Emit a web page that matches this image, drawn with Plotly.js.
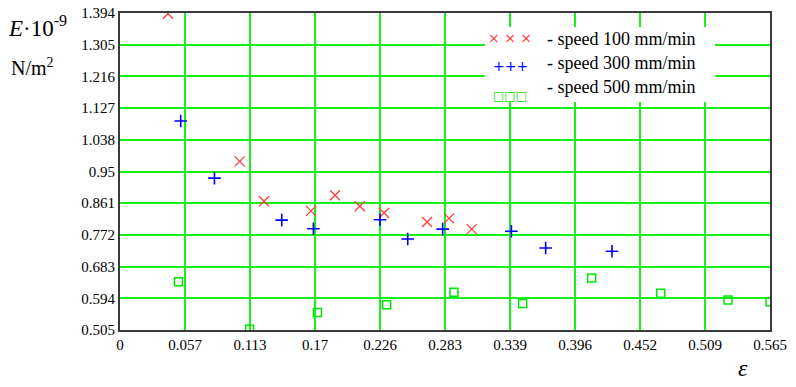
<!DOCTYPE html>
<html>
<head>
<meta charset="utf-8">
<script src="https://cdn.plot.ly/plotly-3.0.1.min.js"></script>
<style>
html,body{margin:0;padding:0;background:#fff;}
#chart{width:796px;height:387px;}
</style>
</head>
<body>
<div id="chart"></div>
<script>
// ---- data (strain ε vs modulus E·10^-9, N/m²) ----
const speed100_x = [0.0417, 0.1040, 0.1252, 0.1660, 0.1869, 0.2084, 0.2295, 0.2669, 0.2860, 0.3057];
const speed100_y = [1.392, 0.978, 0.866, 0.839, 0.883, 0.852, 0.833, 0.808, 0.818, 0.788];

const speed300_x = [0.0528, 0.0821, 0.1406, 0.1681, 0.2260, 0.2501, 0.2805, 0.3402, 0.3700, 0.4277];
const speed300_y = [1.091, 0.931, 0.813, 0.789, 0.814, 0.760, 0.788, 0.782, 0.735, 0.726];

const speed500_x = [0.0508, 0.1127, 0.1716, 0.2318, 0.2903, 0.3500, 0.4100, 0.4700, 0.5285, 0.5650];
const speed500_y = [0.640, 0.507, 0.554, 0.576, 0.611, 0.579, 0.651, 0.608, 0.589, 0.584];

const seriesNames = ["- speed 100 mm/min", "- speed 300 mm/min", "- speed 500 mm/min"];

const xTickVals = [0, 0.0565, 0.113, 0.1695, 0.226, 0.2825, 0.339, 0.3955, 0.452, 0.5085, 0.565];
const xTickText = ["0", "0.057", "0.113", "0.17", "0.226", "0.283", "0.339", "0.396", "0.452", "0.509", "0.565"];
const yTickVals = [0.505, 0.5939, 0.6828, 0.7717, 0.8606, 0.9495, 1.0384, 1.1273, 1.2162, 1.3051, 1.394];
const yTickText = ["0.505", "0.594", "0.683", "0.772", "0.861", "0.95", "1.038", "1.127", "1.216", "1.305", "1.394"];

const RED = "#ff3b3b", BLUE = "#0000ff", GREEN = "#00e600", GRID = "#19f019";
const SERIF = "Liberation Serif, Times New Roman, serif";

const traces = [
  {x: speed100_x, y: speed100_y, mode: "markers", type: "scatter", name: seriesNames[0],
   marker: {symbol: "x-thin-open", size: 10, color: RED, line: {color: RED, width: 1.3}}},
  {x: speed300_x, y: speed300_y, mode: "markers", type: "scatter", name: seriesNames[1],
   marker: {symbol: "cross-thin-open", size: 9, color: BLUE, line: {color: BLUE, width: 1.6}}},
  {x: speed500_x, y: speed500_y, mode: "markers", type: "scatter", name: seriesNames[2],
   marker: {symbol: "square-open", size: 8, color: GREEN, line: {color: GREEN, width: 1.5}}}
];

const layout = {
  width: 796, height: 387,
  margin: {l: 120, r: 26, t: 13, b: 57},
  paper_bgcolor: "#fff", plot_bgcolor: "#fff",
  showlegend: false,
  font: {family: SERIF, color: "#000", size: 15},
  xaxis: {
    range: [0, 0.565], tickmode: "array", tickvals: xTickVals, ticktext: xTickText,
    showgrid: true, gridcolor: GRID, gridwidth: 2, zeroline: false,
    showline: true, mirror: true, linecolor: "#3a3a3a", linewidth: 2,
    ticks: "", tickfont: {family: SERIF, size: 15, color: "#000"}
  },
  yaxis: {
    range: [0.505, 1.394], tickmode: "array", tickvals: yTickVals, ticktext: yTickText,
    showgrid: true, gridcolor: GRID, gridwidth: 2, zeroline: false,
    showline: true, mirror: true, linecolor: "#3a3a3a", linewidth: 2,
    ticks: "", tickfont: {family: SERIF, size: 15, color: "#000"}
  },
  shapes: [
    {type: "rect", xref: "paper", yref: "paper", x0: 0.5615, x1: 0.9154, y0: 0.719, y1: 0.956,
     fillcolor: "#fff", line: {width: 0}, layer: "above"}
  ],
  annotations: [
    {xref: "paper", yref: "paper", x: -0.175, y: 0.957, xanchor: "left", yanchor: "middle", showarrow: false,
     text: "<i>E</i>·10<sup>-9</sup>", font: {family: SERIF, size: 23, color: "#000"}},
    {xref: "paper", yref: "paper", x: -0.134, y: 0.83, xanchor: "center", yanchor: "middle", showarrow: false,
     text: "N/m<sup>2</sup>", font: {family: SERIF, size: 20, color: "#000"}},
    {xref: "paper", yref: "paper", x: 0.958, y: -0.12, xanchor: "center", yanchor: "middle", showarrow: false,
     text: "<i>ε</i>", font: {family: SERIF, size: 24, color: "#000"}},
    // legend
    {xref: "paper", yref: "paper", x: 0.6, y: 0.921, xanchor: "center", yanchor: "middle", showarrow: false,
     text: "× × ×", font: {family: "DejaVu Sans", size: 14, color: RED}},
    {xref: "paper", yref: "paper", x: 0.6, y: 0.834, xanchor: "center", yanchor: "middle", showarrow: false,
     text: "+++", font: {family: "DejaVu Sans", size: 14, color: BLUE}},
    {xref: "paper", yref: "paper", x: 0.6, y: 0.738, xanchor: "center", yanchor: "middle", showarrow: false,
     text: "□□□", font: {family: "DejaVu Sans", size: 12, color: GREEN}},
    {xref: "paper", yref: "paper", x: 0.654, y: 0.918, xanchor: "left", yanchor: "middle", showarrow: false,
     text: seriesNames[0], font: {family: SERIF, size: 18, color: "#000"}},
    {xref: "paper", yref: "paper", x: 0.654, y: 0.842, xanchor: "left", yanchor: "middle", showarrow: false,
     text: seriesNames[1], font: {family: SERIF, size: 18, color: "#000"}},
    {xref: "paper", yref: "paper", x: 0.654, y: 0.767, xanchor: "left", yanchor: "middle", showarrow: false,
     text: seriesNames[2], font: {family: SERIF, size: 18, color: "#000"}}
  ]
};

Plotly.newPlot("chart", traces, layout, {staticPlot: true, displayModeBar: false});
</script>
</body>
</html>
